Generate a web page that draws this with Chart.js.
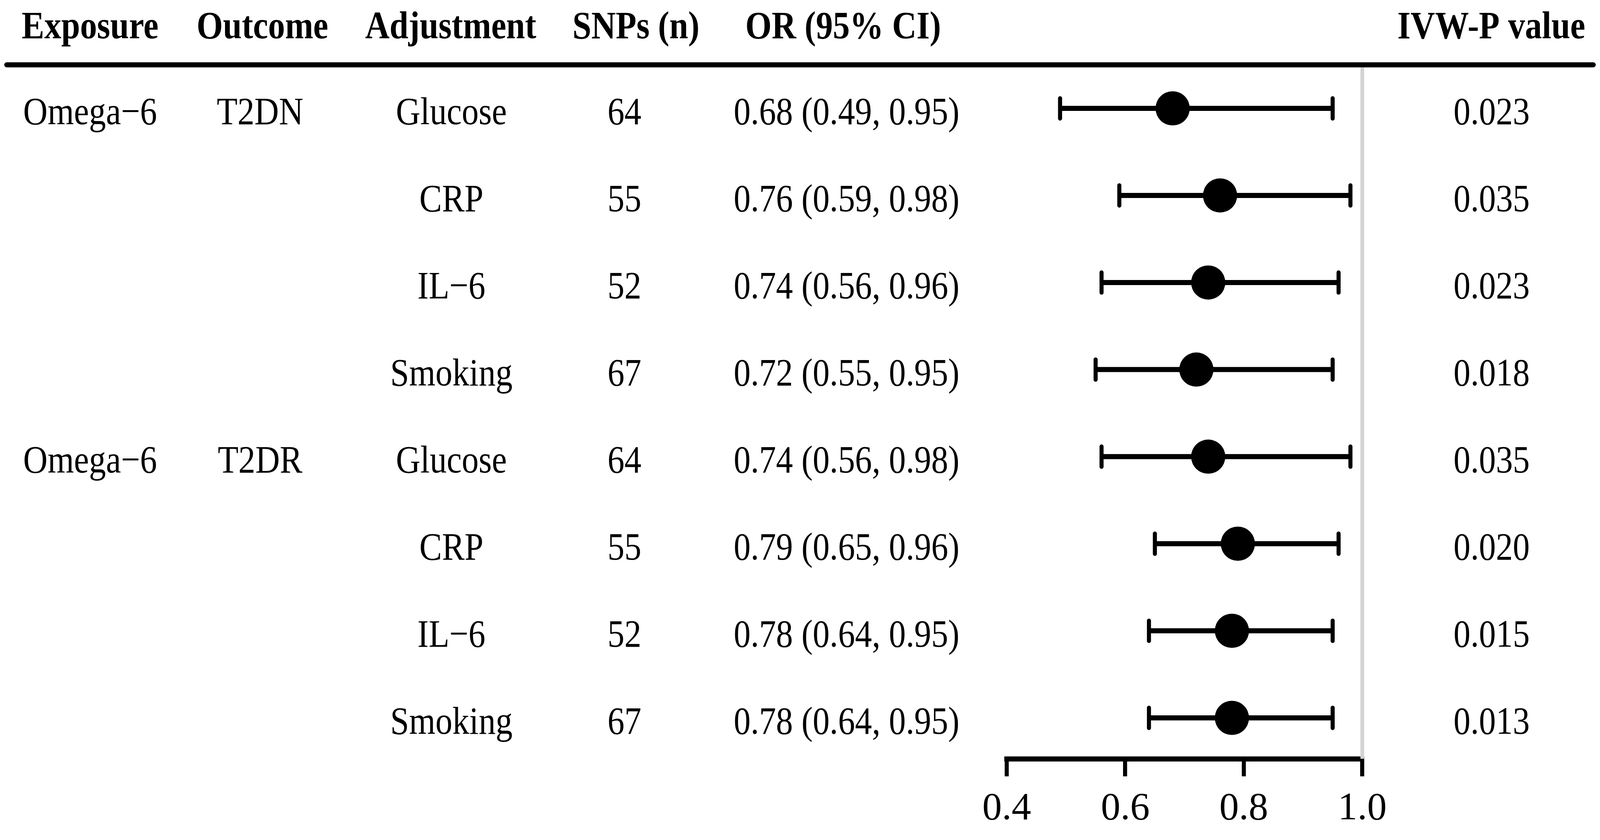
<!DOCTYPE html>
<html>
<head>
<meta charset="utf-8">
<script src="https://cdn.jsdelivr.net/npm/chart.js@4/dist/chart.umd.min.js"></script>
<style>
  html, body { margin: 0; padding: 0; background: #ffffff; overflow: hidden; }
  #wrap { position: absolute; left: 0; top: 0; width: 100vw; height: 100vh; }
</style>
</head>
<body>
<div id="wrap"><canvas id="c"></canvas></div>
<script>
// ---- data ----
const headers = ['Exposure', 'Outcome', 'Adjustment', 'SNPs (n)', 'OR (95% CI)', 'IVW-P value'];
const exposure = ['Omega\u22126', '', '', '', 'Omega\u22126', '', '', ''];
const outcome = ['T2DN', '', '', '', 'T2DR', '', '', ''];
const adjustment = ['Glucose', 'CRP', 'IL\u22126', 'Smoking', 'Glucose', 'CRP', 'IL\u22126', 'Smoking'];
const snps = [64, 55, 52, 67, 64, 55, 52, 67];
const orValues = [0.68, 0.76, 0.74, 0.72, 0.74, 0.79, 0.78, 0.78];
const ciLower = [0.49, 0.59, 0.56, 0.55, 0.56, 0.65, 0.64, 0.64];
const ciUpper = [0.95, 0.98, 0.96, 0.95, 0.98, 0.96, 0.95, 0.95];
const pValues = ['0.023', '0.035', '0.023', '0.018', '0.035', '0.020', '0.015', '0.013'];
const xTicks = [0.4, 0.6, 0.8, 1.0];
const refLine = 1.0;

// ---- layout (reference pixels, scaled to the viewport) ----
const REF_W = 4725, REF_H = 2151;
const SX = window.innerWidth / REF_W;
const SY = window.innerHeight / REF_H;
const SM = Math.sqrt(SX * SY);
const pxX = v => v * SX;
const pxY = v => v * SY;
const FONT = '"Liberation Serif", "Times New Roman", serif';
const headerY = 98;
const rowTextOffset = 41;
const colHeaderX = [266, 775, 1331, 1878, 2490, 4404];
const colValueX = [266, 768, 1333, 1844, 2500, 4405];

const rows = orValues.map((v, i) => ({ x: v, y: i + 1, lo: ciLower[i], hi: ciUpper[i] }));
const fmt = v => v.toFixed(2);

function drawText(ctx, text, x, y) {
  ctx.save();
  ctx.translate(x, y);
  ctx.scale(SX, SY);
  ctx.fillText(text, 0, 0);
  ctx.restore();
}

const tablePlugin = {
  id: 'forestTable',
  beforeDatasetsDraw(chart) {
    const ctx = chart.ctx;
    const xs = chart.scales.x, ys = chart.scales.y;
    ctx.save();
    const rx = xs.getPixelForValue(refLine);
    ctx.strokeStyle = '#d3d3d3';
    ctx.lineWidth = pxX(11);
    ctx.beginPath();
    ctx.moveTo(rx, pxY(160));
    ctx.lineTo(rx, chart.chartArea.bottom);
    ctx.stroke();
    ctx.strokeStyle = '#000';
    ctx.lineWidth = pxY(13);
    ctx.lineCap = 'round';
    ctx.beginPath();
    ctx.moveTo(pxX(20), pxY(166));
    ctx.lineTo(pxX(4705), pxY(166));
    ctx.stroke();
    rows.forEach(r => {
      const y = ys.getPixelForValue(r.y);
      const x1 = xs.getPixelForValue(r.lo), x2 = xs.getPixelForValue(r.hi);
      ctx.lineCap = 'butt';
      ctx.lineWidth = pxY(13);
      ctx.beginPath();
      ctx.moveTo(x1, y); ctx.lineTo(x2, y);
      ctx.stroke();
      ctx.lineCap = 'round';
      ctx.lineWidth = pxX(12);
      ctx.beginPath();
      ctx.moveTo(x1, y - pxY(26)); ctx.lineTo(x1, y + pxY(26));
      ctx.moveTo(x2, y - pxY(26)); ctx.lineTo(x2, y + pxY(26));
      ctx.stroke();
    });
    ctx.restore();
  },
  afterDraw(chart) {
    const ctx = chart.ctx;
    const ys = chart.scales.y;
    ctx.save();
    ctx.fillStyle = '#000';
    ctx.textAlign = 'center';
    ctx.textBaseline = 'alphabetic';
    ctx.font = 'bold 100px ' + FONT;
    headers.forEach((h, i) => drawText(ctx, h, pxX(colHeaderX[i]), pxY(headerY)));
    ctx.font = '100px ' + FONT;
    rows.forEach((r, i) => {
      const y = ys.getPixelForValue(r.y) + pxY(rowTextOffset);
      const cells = [
        exposure[i], outcome[i], adjustment[i], String(snps[i]),
        fmt(orValues[i]) + ' (' + fmt(ciLower[i]) + ', ' + fmt(ciUpper[i]) + ')',
        pValues[i]
      ];
      cells.forEach((t, c) => { if (t) drawText(ctx, t, pxX(colValueX[c]), y); });
    });
    ctx.restore();
  }
};

new Chart(document.getElementById('c'), {
  type: 'scatter',
  data: {
    datasets: [{
      data: rows,
      pointRadius: 47 * SM,
      pointHoverRadius: 47 * SM,
      pointBackgroundColor: '#000',
      pointBorderWidth: 0,
      borderColor: '#000'
    }]
  },
  options: {
    responsive: true,
    maintainAspectRatio: false,
    animation: false,
    events: [],
    layout: { padding: { top: pxY(166), left: pxX(2973), right: pxX(REF_W - 4023), bottom: 0 } },
    plugins: { legend: { display: false }, tooltip: { enabled: false } },
    scales: {
      x: {
        type: 'linear',
        min: xTicks[0],
        max: xTicks[xTicks.length - 1],
        afterBuildTicks: s => { s.ticks = xTicks.map(v => ({ value: v })); },
        afterFit: s => { s.height = pxY(208); },
        border: { display: true, color: '#000', width: pxY(13) },
        grid: { display: true, drawOnChartArea: false, drawTicks: true, tickLength: pxY(45), tickWidth: pxX(12), tickColor: '#000', color: '#000', lineWidth: pxX(12) },
        ticks: {
          padding: pxY(24),
          color: '#000',
          font: { family: FONT, size: pxY(100) },
          maxRotation: 0,
          autoSkip: false,
          callback: v => Number(v).toFixed(1)
        }
      },
      y: {
        type: 'linear',
        display: false,
        reverse: true,
        min: 0.5,
        max: 8.47
      }
    }
  },
  plugins: [tablePlugin]
});
</script>
</body>
</html>
